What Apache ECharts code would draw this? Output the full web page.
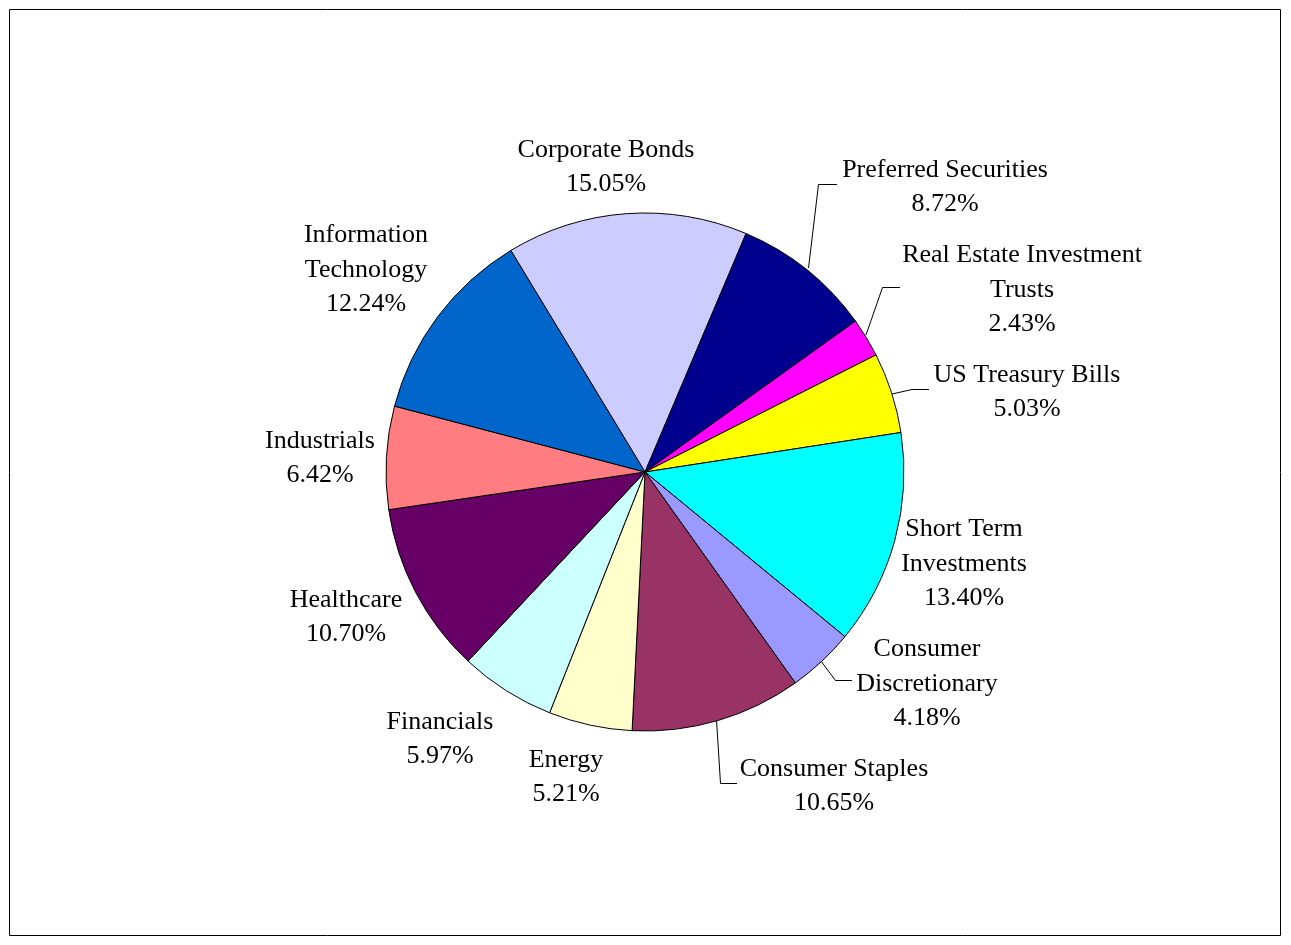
<!DOCTYPE html>
<html>
<head>
<meta charset="utf-8">
<script src="https://cdn.jsdelivr.net/npm/echarts@6/dist/echarts.min.js"></script>
<style>
html,body{margin:0;padding:0;background:#fff;}
#chart{width:1291px;height:945px;}
</style>
</head>
<body>
<div id="chart"></div>
<script>
// ---- data ----
const categories = [
  'Corporate Bonds', 'Preferred Securities', 'Real Estate Investment Trusts',
  'US Treasury Bills', 'Short Term Investments', 'Consumer Discretionary',
  'Consumer Staples', 'Energy', 'Financials', 'Healthcare', 'Industrials',
  'Information Technology'
];
const labelTexts = [
  'Corporate Bonds', 'Preferred Securities', 'Real Estate Investment\nTrusts',
  'US Treasury Bills', 'Short Term\nInvestments', 'Consumer\nDiscretionary',
  'Consumer Staples', 'Energy', 'Financials', 'Healthcare', 'Industrials',
  'Information\nTechnology'
];
const percents = [15.05, 8.72, 2.43, 5.03, 13.40, 4.18, 10.65, 5.21, 5.97, 10.70, 6.42, 12.24];

// ---- style ----
const colors = ['#CCCCFF', '#00008E', '#FF00FF', '#FFFF00', '#00FFFF', '#9999FF',
                '#993366', '#FFFFCC', '#CCFFFF', '#660066', '#FF7C80', '#0066CC'];
// label block centers and leader lines (layout only)
const labelPos = [
  [606, 167], [945, 187], [1022, 290], [1027, 392], [964, 564], [927, 684],
  [834, 786], [566, 777], [440, 739], [346, 617], [320, 458], [366, 270]
];
const leaderLines = {
  1: [[808.5, 268], [818.5, 184.5], [837, 184.5]],
  2: [[866, 335], [882.5, 287.5], [900, 287.5]],
  3: [[892, 394], [912, 389.5], [929, 389.5]],
  5: [[821, 661], [835.5, 680.5], [852, 680.5]],
  6: [[716.5, 720], [720.5, 783.5], [737, 783.5]]
};

const chart = echarts.init(document.getElementById('chart'), null, {renderer: 'canvas'});
const data = categories.map((c, i) => ({
  name: c,
  value: percents[i],
  itemStyle: {color: colors[i]},
  labelLine: {show: !!leaderLines[i]}
}));

chart.setOption({
  backgroundColor: '#ffffff',
  animation: false,
  graphic: [{
    type: 'rect',
    shape: {x: 9.5, y: 9.5, width: 1271, height: 926},
    style: {fill: 'none', stroke: '#000', lineWidth: 1},
    silent: true
  }],
  series: [{
    type: 'pie',
    center: [645, 472],
    radius: [0, 259],
    startAngle: 121.2,
    clockwise: true,
    avoidLabelOverlap: false,
    data: data,
    itemStyle: {borderColor: '#000', borderWidth: 1},
    label: {
      show: true,
      position: 'outside',
      formatter: p => labelTexts[p.dataIndex] + '\n' + percents[p.dataIndex].toFixed(2) + '%',
      fontFamily: '"Liberation Serif", "Times New Roman", serif',
      fontSize: 26,
      lineHeight: 34.5,
      color: '#000',
      align: 'center'
    },
    labelLine: {
      show: true,
      lineStyle: {color: '#000', width: 1}
    },
    labelLayout: function (params) {
      const i = params.dataIndex;
      const out = {
        x: labelPos[i][0],
        y: labelPos[i][1],
        align: 'center',
        verticalAlign: 'middle'
      };
      if (leaderLines[i]) out.labelLinePoints = leaderLines[i];
      return out;
    },
    emphasis: {disabled: true}
  }]
});
</script>
</body>
</html>
